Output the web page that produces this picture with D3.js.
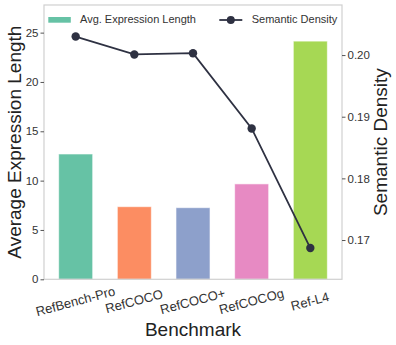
<!DOCTYPE html>
<html>
<head>
<meta charset="utf-8">
<script src="https://cdn.jsdelivr.net/npm/d3@7"></script>
<style>
  body { margin: 0; background: #fff; }
  svg { font-family: Arial, "Liberation Sans", sans-serif; }
</style>
</head>
<body>
<svg id="chart" width="396" height="345"></svg>
<script>
// chart data
const benchmarks = ['RefBench-Pro', 'RefCOCO', 'RefCOCO+', 'RefCOCOg', 'Ref-L4'];
const avgLength = [12.7, 7.36, 7.26, 9.67, 24.14];
const density = [0.2030, 0.2001, 0.2003, 0.1881, 0.1687];
const barColors = ['#66c2a5', '#fc8d62', '#8da0cb', '#e78ac3', '#a6d854'];
const leftTicks = [0, 5, 10, 15, 20, 25];
const rightTicks = [0.17, 0.18, 0.19, 0.20];

const svg = d3.select('#chart');
const plotLeft = 44, plotRight = 342, plotTop = 5, plotBottom = 279.3;
const lineColor = '#2e3142';
const spineColor = '#d0d0d0';
const tickTextColor = '#333';

const x = d3.scaleLinear().domain([-0.54, benchmarks.length - 1 + 0.54]).range([plotLeft, plotRight]);
const y = d3.scaleLinear().domain([0, 27.8]).range([plotBottom, plotTop]);
const y2 = d3.scaleLinear().domain([0.16363, 0.20812]).range([plotBottom, plotTop]);
const barWidth = x(0.58) - x(0);

// bars
svg.append('g').selectAll('rect')
  .data(avgLength)
  .join('rect')
  .attr('x', (d, i) => x(i) - barWidth / 2)
  .attr('y', d => y(d))
  .attr('width', barWidth)
  .attr('height', d => y(0) - y(d))
  .attr('fill', (d, i) => barColors[i])
  .attr('stroke', 'rgba(255,255,255,0.6)')
  .attr('stroke-width', 1);

// line
const line = d3.line()
  .x((d, i) => x(i))
  .y(d => y2(d));

svg.append('path')
  .attr('d', line(density))
  .attr('fill', 'none')
  .attr('stroke', lineColor)
  .attr('stroke-width', 1.8);

svg.append('g').selectAll('circle')
  .data(density)
  .join('circle')
  .attr('cx', (d, i) => x(i))
  .attr('cy', d => y2(d))
  .attr('r', 4.2)
  .attr('fill', lineColor);

// spines
svg.append('rect')
  .attr('x', plotLeft).attr('y', plotTop)
  .attr('width', plotRight - plotLeft).attr('height', plotBottom - plotTop)
  .attr('fill', 'none')
  .attr('stroke', spineColor)
  .attr('stroke-width', 1.2);

// left axis
const yAxis = d3.axisLeft(y).tickValues(leftTicks).tickSize(3.5).tickPadding(2);
const gy = svg.append('g').attr('transform', `translate(${plotLeft},0)`).call(yAxis);
gy.select('.domain').remove();
gy.selectAll('line').attr('stroke', '#555');
gy.selectAll('text').attr('fill', tickTextColor).style('font-size', '11.5px');

// right axis
const y2Axis = d3.axisRight(y2).tickValues(rightTicks).tickFormat(d3.format('.2f')).tickSize(3.5).tickPadding(2);
const gy2 = svg.append('g').attr('transform', `translate(${plotRight},0)`).call(y2Axis);
gy2.select('.domain').remove();
gy2.selectAll('line').attr('stroke', '#555');
gy2.selectAll('text').attr('fill', tickTextColor).style('font-size', '11.5px');

// x tick labels
svg.append('g').selectAll('text')
  .data(benchmarks)
  .join('text')
  .attr('transform', (d, i) => `translate(${x(i)},${plotBottom + 23}) rotate(-15)`)
  .attr('text-anchor', 'middle')
  .attr('dominant-baseline', 'middle')
  .attr('fill', tickTextColor)
  .style('font-size', '13px')
  .text(d => d);

// axis titles
svg.append('text')
  .attr('x', (plotLeft + plotRight) / 2).attr('y', 336)
  .attr('text-anchor', 'middle')
  .attr('fill', '#222')
  .style('font-size', '19px')
  .text('Benchmark');

svg.append('text')
  .attr('transform', `translate(21,${(plotTop + plotBottom) / 2}) rotate(-90)`)
  .attr('text-anchor', 'middle')
  .attr('fill', '#222')
  .style('font-size', '19px')
  .text('Average Expression Length');

svg.append('text')
  .attr('transform', `translate(387,${(plotTop + plotBottom) / 2}) rotate(-90)`)
  .attr('text-anchor', 'middle')
  .attr('fill', '#222')
  .style('font-size', '19px')
  .text('Semantic Density');

// legends
const leg1 = svg.append('g');
leg1.append('rect')
  .attr('x', 48.3).attr('y', 17)
  .attr('width', 22.5).attr('height', 5.7)
  .attr('fill', barColors[0]);
leg1.append('text')
  .attr('x', 80).attr('y', 20)
  .attr('dominant-baseline', 'middle')
  .attr('fill', '#333')
  .style('font-size', '11px')
  .text('Avg. Expression Length');

const leg2 = svg.append('g');
leg2.append('line')
  .attr('x1', 219.3).attr('x2', 242.3)
  .attr('y1', 20).attr('y2', 20)
  .attr('stroke', lineColor).attr('stroke-width', 1.8);
leg2.append('circle')
  .attr('cx', 230.8).attr('cy', 20).attr('r', 4)
  .attr('fill', lineColor);
leg2.append('text')
  .attr('x', 251.7).attr('y', 20)
  .attr('dominant-baseline', 'middle')
  .attr('fill', '#333')
  .style('font-size', '11px')
  .text('Semantic Density');
</script>
</body>
</html>
